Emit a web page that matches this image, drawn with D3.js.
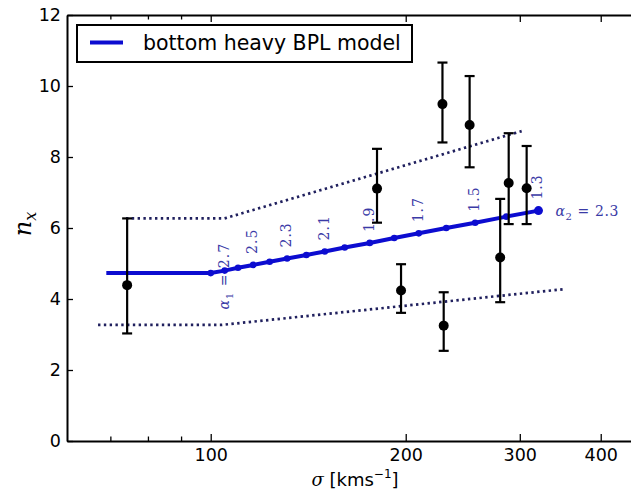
<!DOCTYPE html>
<html>
<head>
<meta charset="utf-8">
<script src="https://cdn.jsdelivr.net/npm/d3@7"></script>
<style>
  html, body { margin: 0; padding: 0; background: #fff; }
  svg { display: block; }
</style>
</head>
<body>
<svg id="chart" width="631" height="490"></svg>
<script>
// ---- data ----
const obsSigma = [74.3, 180.6, 227.9, 251.0, 288.4, 307.4, 196.7, 228.9, 279.8];
const obsNx    = [4.39, 7.11, 9.49, 8.90, 7.27, 7.12, 4.24, 3.25, 5.17];
const obsHi    = [6.27, 8.23, 10.66, 10.28, 8.67, 8.31, 4.98, 4.19, 6.82];
const obsLo    = [3.03, 6.15, 8.41, 7.71, 6.11, 6.11, 3.61, 2.54, 3.91];

const modelSigma = [69, 100, 105.1, 110.2, 116.3, 123.3, 131.2, 140.5, 150, 161, 176, 192, 209.5, 231, 256, 286, 320.6];
const modelNx    = [4.73, 4.73, 4.80, 4.88, 4.96, 5.05, 5.14, 5.24, 5.34, 5.45, 5.58, 5.72, 5.85, 6.00, 6.15, 6.32, 6.49];

const upperSigma = [74, 105, 302];
const upperNx    = [6.27, 6.27, 8.73];
const lowerSigma = [67, 104, 352];
const lowerNx    = [3.27, 3.27, 4.28];

const alphaLabelSigma = [105.1, 116.3, 131.2, 150, 176, 209.5, 256, 320.6];
const alphaLabelNx    = [4.80, 4.96, 5.14, 5.34, 5.58, 5.85, 6.15, 6.49];
const alphaLabels     = ["2.7", "2.5", "2.3", "2.1", "1.9", "1.7", "1.5", "1.3"];

const xMajorTicks = [100, 200, 300, 400];
const xMinorTicks = [70, 80, 90];
const yTicks = [0, 2, 4, 6, 8, 10, 12];

const legendLabel = "bottom heavy BPL model";

// ---- layout ----
const svg = d3.select("#chart");
const plotLeft = 67, plotTop = 15, plotBottom = 441;
const pxPerDecade = 647.8;
const xMin = 60, xMax = 475;
const x = d3.scaleLog().domain([xMin, xMax])
  .range([plotLeft, plotLeft + pxPerDecade * Math.log10(xMax / xMin)]);
const y = d3.scaleLinear().domain([0, 12]).range([plotBottom, plotTop]);
const plotRight = x.range()[1];

const tickFont = "DejaVu Sans, sans-serif";
const serif = "DejaVu Serif, serif";
const labelColor = "#3a3aa6";
const blue = "#0c0cd0";
const dotColor = "#20205e";

svg.append("rect").attr("width", 631).attr("height", 490).attr("fill", "#fff");

// ---- model lines ----
const line = d3.line().x(d => x(d[0])).y(d => y(d[1]));

svg.append("path")
  .datum(upperSigma.map((s, i) => [s, upperNx[i]]))
  .attr("d", line).attr("fill", "none")
  .attr("stroke", dotColor).attr("stroke-width", 2.7)
  .attr("stroke-dasharray", "2.4,3.4");

svg.append("path")
  .datum(lowerSigma.map((s, i) => [s, lowerNx[i]]))
  .attr("d", line).attr("fill", "none")
  .attr("stroke", dotColor).attr("stroke-width", 2.7)
  .attr("stroke-dasharray", "2.4,3.4");

const modelData = modelSigma.map((s, i) => [s, modelNx[i]]);
svg.append("path")
  .datum(modelData)
  .attr("d", line).attr("fill", "none")
  .attr("stroke", blue).attr("stroke-width", 4);

svg.selectAll("circle.mk")
  .data(modelData.slice(1))
  .enter().append("circle").attr("class", "mk")
  .attr("cx", d => x(d[0])).attr("cy", d => y(d[1]))
  .attr("r", (d, i, a) => i === a.length - 1 ? 4.5 : 3.3)
  .attr("fill", blue);

// ---- alpha labels ----
alphaLabels.forEach((t, i) => {
  const px = x(alphaLabelSigma[i]) + 4;
  const py = y(alphaLabelNx[i]) - 11;
  const g = svg.append("text")
    .attr("font-family", serif).attr("font-size", 14)
    .attr("letter-spacing", 1)
    .attr("fill", labelColor)
    .attr("text-anchor", "start");
  if (i === 0) {
    g.attr("transform", `translate(${px},${py + 50}) rotate(-90)`);
    g.append("tspan").attr("font-style", "italic").text("α");
    g.append("tspan").attr("font-size", 10).attr("dy", 4).text("1");
    g.append("tspan").attr("dy", -4).text(" = " + t);
  } else {
    g.attr("transform", `translate(${px},${py}) rotate(-90)`).text(t);
  }
});

// α2 = 2.3 label
{
  const last = modelData[modelData.length - 1];
  const t = svg.append("text")
    .attr("x", x(last[0]) + 17).attr("y", y(last[1]) + 5)
    .attr("font-family", serif).attr("font-size", 14)
    .attr("letter-spacing", 0.6)
    .attr("fill", labelColor);
  t.append("tspan").attr("font-style", "italic").text("α");
  t.append("tspan").attr("font-size", 10).attr("dy", 4).text("2");
  t.append("tspan").attr("dy", -4).text(" = 2.3");
}

// ---- observed points with error bars ----
const obs = obsSigma.map((s, i) => ({ s, n: obsNx[i], hi: obsHi[i], lo: obsLo[i] }));
const eb = svg.append("g").attr("stroke", "#000").attr("stroke-width", 2.2);
obs.forEach(d => {
  const cx = x(d.s);
  eb.append("line").attr("x1", cx).attr("x2", cx).attr("y1", y(d.hi)).attr("y2", y(d.lo));
  eb.append("line").attr("x1", cx - 5).attr("x2", cx + 5).attr("y1", y(d.hi)).attr("y2", y(d.hi));
  eb.append("line").attr("x1", cx - 5).attr("x2", cx + 5).attr("y1", y(d.lo)).attr("y2", y(d.lo));
});
svg.selectAll("circle.obs").data(obs).enter().append("circle")
  .attr("class", "obs")
  .attr("cx", d => x(d.s)).attr("cy", d => y(d.n)).attr("r", 5)
  .attr("fill", "#000");

// ---- axes ----
function styleAxis(g) {
  g.selectAll("path.domain").attr("stroke", "#000").attr("stroke-width", 2);
  g.selectAll(".tick line").attr("stroke", "#000").attr("stroke-width", 1.3);
  g.selectAll(".tick text").attr("font-family", tickFont).attr("font-size", 17.5).attr("fill", "#000");
}

const xb = svg.append("g").attr("transform", `translate(0,${plotBottom})`)
  .call(d3.axisBottom(x).tickValues(xMajorTicks).tickFormat(d3.format("d"))
    .tickSizeInner(-7).tickSizeOuter(0).tickPadding(8));
styleAxis(xb);
const xbm = svg.append("g").attr("transform", `translate(0,${plotBottom})`)
  .call(d3.axisBottom(x).tickValues(xMinorTicks).tickFormat("")
    .tickSizeInner(-4.5).tickSizeOuter(0));
styleAxis(xbm);
xbm.select("path.domain").remove();

const xt = svg.append("g").attr("transform", `translate(0,${plotTop})`)
  .call(d3.axisTop(x).tickValues(xMajorTicks).tickFormat("")
    .tickSizeInner(-7).tickSizeOuter(0));
styleAxis(xt);
const xtm = svg.append("g").attr("transform", `translate(0,${plotTop})`)
  .call(d3.axisTop(x).tickValues(xMinorTicks).tickFormat("")
    .tickSizeInner(-4.5).tickSizeOuter(0));
styleAxis(xtm);
xtm.select("path.domain").remove();

const yl = svg.append("g").attr("transform", `translate(${plotLeft},0)`)
  .call(d3.axisLeft(y).tickValues(yTicks).tickFormat(d3.format("d"))
    .tickSizeInner(-6).tickSizeOuter(0).tickPadding(6));
styleAxis(yl);

const yr = svg.append("g").attr("transform", `translate(${plotRight},0)`)
  .call(d3.axisRight(y).tickValues(yTicks).tickFormat("")
    .tickSizeInner(-6).tickSizeOuter(0));
styleAxis(yr);

// ---- axis labels ----
const yLab = svg.append("text")
  .attr("transform", "translate(31,224) rotate(-90)")
  .attr("text-anchor", "middle")
  .attr("font-family", serif).attr("font-size", 24).attr("fill", "#000");
yLab.append("tspan").attr("font-style", "italic").text("n");
yLab.append("tspan").attr("font-style", "italic").attr("font-size", 16).attr("dy", 5).text("x");

const xLab = svg.append("text")
  .attr("x", 355).attr("y", 486)
  .attr("text-anchor", "middle")
  .attr("font-family", tickFont).attr("font-size", 18).attr("fill", "#000");
xLab.append("tspan").attr("font-family", serif).attr("font-style", "italic").text("σ");
xLab.append("tspan").text(" [kms");
xLab.append("tspan").attr("font-size", 12).attr("dy", -8).text("−1");
xLab.append("tspan").attr("dy", 8).text("]");

// ---- legend ----
const lg = svg.append("g");
lg.append("rect").attr("x", 77).attr("y", 25).attr("width", 335).attr("height", 37)
  .attr("fill", "#fff").attr("stroke", "#000").attr("stroke-width", 2);
lg.append("line").attr("x1", 90).attr("x2", 123).attr("y1", 42.5).attr("y2", 42.5)
  .attr("stroke", blue).attr("stroke-width", 4);
lg.append("text").attr("x", 143).attr("y", 50)
  .attr("font-family", tickFont).attr("font-size", 20.5).attr("fill", "#000")
  .text(legendLabel);
</script>
</body>
</html>
